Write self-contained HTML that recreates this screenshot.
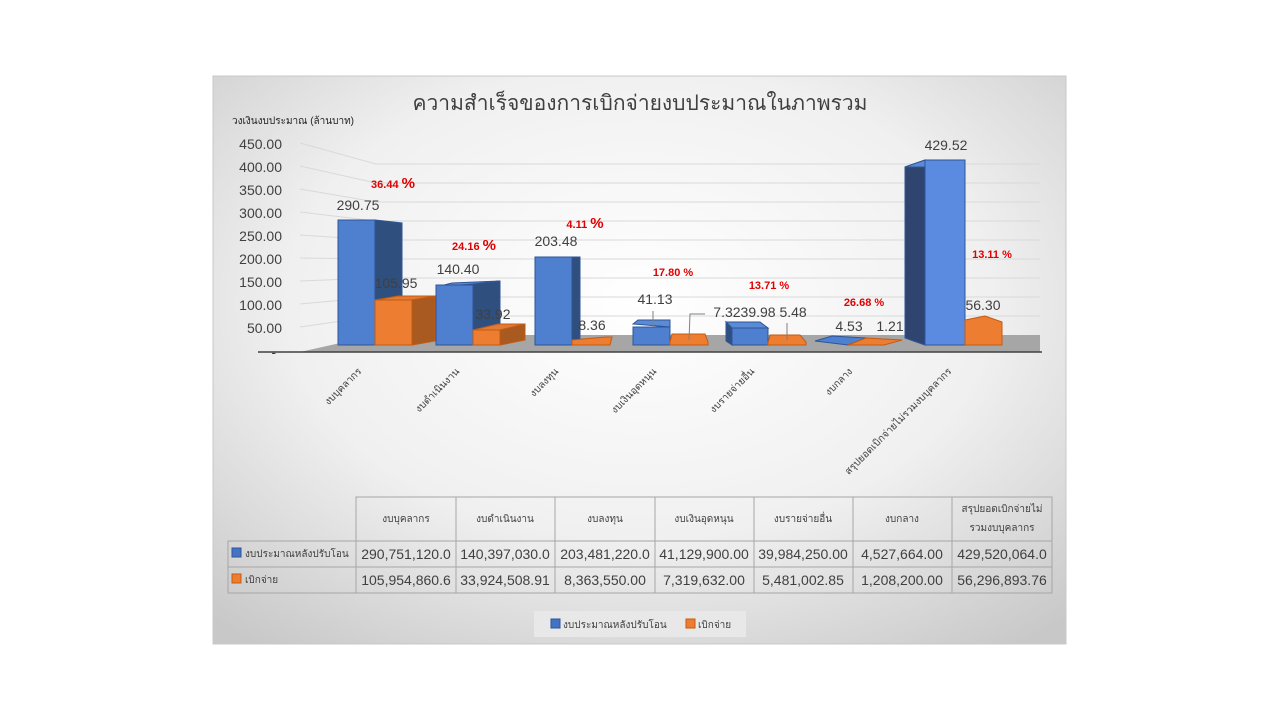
<!DOCTYPE html>
<html><head><meta charset="utf-8"><style>
body{margin:0;background:#fff;width:1280px;height:720px;overflow:hidden}
svg{display:block;font-family:"Liberation Sans","DejaVu Sans",sans-serif}
</style></head><body>
<svg width="1280" height="720" viewBox="0 0 1280 720">
<defs>
<radialGradient id="bg" cx="0.5" cy="0.4" r="0.75">
<stop offset="0" stop-color="#ffffff"/><stop offset="0.55" stop-color="#f0f0f0"/><stop offset="1" stop-color="#c8c8c8"/>
</radialGradient>
</defs>
<rect x="213" y="76" width="853" height="568" fill="url(#bg)" stroke="#c8c8c8"/>
<text x="640" y="110" font-size="21" text-anchor="middle" fill="#404040">ความสำเร็จของการเบิกจ่ายงบประมาณในภาพรวม</text>
<text x="232" y="124" font-size="10" fill="#222">วงเงินงบประมาณ (ล้านบาท)</text>
<g font-size="14" fill="#404040" text-anchor="end">
<text x="282" y="149">450.00</text><text x="282" y="172">400.00</text><text x="282" y="195">350.00</text>
<text x="282" y="218">300.00</text><text x="282" y="241">250.00</text><text x="282" y="264">200.00</text>
<text x="282" y="287">150.00</text><text x="282" y="310">100.00</text><text x="282" y="333">50.00</text>
<text x="276" y="357">-</text>
</g>
<g stroke="#d9d9d9" stroke-width="1" fill="none">
<polyline points="300,143 376,164 1040,164"/><polyline points="300,166 376,183 1040,183"/>
<polyline points="300,189 376,202 1040,202"/><polyline points="300,212 376,221 1040,221"/>
<polyline points="300,235 376,240 1040,240"/><polyline points="300,258 376,259 1040,259"/>
<polyline points="300,281 376,278 1040,278"/><polyline points="300,304 376,297 1040,297"/>
<polyline points="300,327 376,316 1040,316"/>
</g>
<polygon points="300,352 376,335 1040,335 1040,352" fill="#a6a6a6"/>
<line x1="258" y1="352" x2="1042" y2="352" stroke="#404040" stroke-width="1.5"/>
<!-- bars: front face, side face, top -->
<g stroke="#2f5597" stroke-width="1">
<!-- cat1 -->
<polygon points="375,220 402,223 402,345 375,345" fill="#2f4f7f"/>
<rect x="338" y="220" width="37" height="125" fill="#4f7fcf"/>
<!-- cat2 -->
<polygon points="473,284 500,281 500,345 473,345" fill="#2f4f7f"/>
<polygon points="436,287 452,283 500,281 473,284" fill="#5b8ad6"/>
<rect x="436" y="285" width="37" height="60" fill="#4f7fcf"/>
<!-- cat3 -->
<polygon points="572,257 580,257 580,345 572,345" fill="#2f4f7f"/>
<rect x="535" y="257" width="37" height="88" fill="#4f7fcf"/>
<!-- cat4 -->
<polygon points="633,324 638,320 670,320 670,327" fill="#5b8ad6"/>
<rect x="633" y="327" width="37" height="18" fill="#4f7fcf"/>
<!-- cat5 -->
<polygon points="726,322 760,322 768,328 732,328" fill="#5b8ad6"/>
<polygon points="726,322 732,328 732,345 726,341" fill="#2f4f7f"/>
<rect x="732" y="328" width="36" height="17" fill="#4f7fcf"/>
<!-- cat6 -->
<polygon points="815,341 832,336 866,338 848,345" fill="#4f7fcf"/>
<!-- cat7 -->
<polygon points="905,167 925,160 925,345 905,338" fill="#2f4570"/>
<polygon points="905,167 925,160 965,160 945,167" fill="#5b8ad6"/>
<rect x="925" y="160" width="40" height="185" fill="#5a8be0"/>
</g>
<g stroke="#c55a11" stroke-width="1">
<polygon points="375,300 398,296 435,296 412,300" fill="#e07a35"/>
<polygon points="412,300 435,296 435,341 412,345" fill="#a85a20"/>
<rect x="375" y="300" width="37" height="45" fill="#ed7d31"/>
<polygon points="473,330 498,324 525,324 500,330" fill="#e07a35"/>
<polygon points="500,330 525,324 525,340 500,345" fill="#a85a20"/>
<rect x="473" y="330" width="27" height="15" fill="#ed7d31"/>
<polygon points="572,340 606,337 612,337 610,345 572,345" fill="#ed7d31"/>
<polygon points="670,342 672,334 705,334 708,342 708,345 670,345" fill="#ed7d31"/>
<polygon points="768,343 770,335 800,335 806,342 806,345 768,345" fill="#ed7d31"/>
<polygon points="848,345 866,338 902,340 884,345" fill="#ed7d31"/>
<polygon points="965,320 985,316 1002,322 1002,345 965,345" fill="#ed7d31"/>
</g>
<g stroke="#808080" fill="none"><polyline points="653,311 653,327"/><polyline points="705,314 690,314 689,340"/><polyline points="787,323 787,340"/></g>
<g font-size="14" fill="#404040" text-anchor="middle">
<text x="358" y="210">290.75</text><text x="396" y="288">105.95</text>
<text x="458" y="274">140.40</text><text x="493" y="319">33.92</text>
<text x="556" y="246">203.48</text><text x="592" y="330">8.36</text>
<text x="655" y="304">41.13</text><text x="760" y="317">7.3239.98 5.48</text>
<text x="849" y="331">4.53</text><text x="890" y="331">1.21</text>
<text x="946" y="150">429.52</text><text x="983" y="310">56.30</text>
</g>
<g font-size="11" font-weight="bold" fill="#e00000" text-anchor="middle">
<text x="393" y="188">36.44 <tspan font-size="15">%</tspan></text>
<text x="474" y="250">24.16 <tspan font-size="15">%</tspan></text>
<text x="585" y="228">4.11 <tspan font-size="15">%</tspan></text>
<text x="673" y="276">17.80 %</text><text x="769" y="289">13.71 %</text>
<text x="864" y="306">26.68 %</text><text x="992" y="258">13.11 %</text>
</g>
<g font-size="10" fill="#404040" text-anchor="end">
<text transform="translate(362,372) rotate(-45)">งบบุคลากร</text>
<text transform="translate(460,372) rotate(-45)">งบดำเนินงาน</text>
<text transform="translate(559,372) rotate(-45)">งบลงทุน</text>
<text transform="translate(657,372) rotate(-45)">งบเงินอุดหนุน</text>
<text transform="translate(755,372) rotate(-45)">งบรายจ่ายอื่น</text>
<text transform="translate(853,372) rotate(-45)">งบกลาง</text>
<text transform="translate(952,372) rotate(-45)">สรุปยอดเบิกจ่ายไม่รวมงบบุคลากร</text>
</g>
<!-- table -->
<g stroke="#a6a6a6" fill="none">
<rect x="356" y="497" width="696" height="96"/>
<rect x="228" y="541" width="128" height="52"/>
<line x1="228" y1="567" x2="1052" y2="567"/><line x1="356" y1="541" x2="1052" y2="541"/>
<line x1="456" y1="497" x2="456" y2="593"/><line x1="555" y1="497" x2="555" y2="593"/>
<line x1="655" y1="497" x2="655" y2="593"/><line x1="754" y1="497" x2="754" y2="593"/>
<line x1="853" y1="497" x2="853" y2="593"/><line x1="952" y1="497" x2="952" y2="593"/>
</g>
<g font-size="10" fill="#404040" text-anchor="middle">
<text x="406" y="522">งบบุคลากร</text><text x="505" y="522">งบดำเนินงาน</text><text x="605" y="522">งบลงทุน</text>
<text x="704" y="522">งบเงินอุดหนุน</text><text x="803" y="522">งบรายจ่ายอื่น</text><text x="902" y="522">งบกลาง</text>
<text x="1002" y="512">สรุปยอดเบิกจ่ายไม่</text><text x="1002" y="531">รวมงบบุคลากร</text>
</g>
<rect x="232" y="548" width="9" height="9" fill="#4472c4" stroke="#2f5597"/>
<rect x="232" y="574" width="9" height="9" fill="#ed7d31" stroke="#c55a11"/>
<g font-size="10" fill="#404040"><text x="245" y="557">งบประมาณหลังปรับโอน</text><text x="245" y="583">เบิกจ่าย</text></g>
<g font-size="14" fill="#404040" text-anchor="middle">
<text x="406" y="559">290,751,120.0</text><text x="505" y="559">140,397,030.0</text><text x="605" y="559">203,481,220.0</text>
<text x="704" y="559">41,129,900.00</text><text x="803" y="559">39,984,250.00</text><text x="902" y="559">4,527,664.00</text><text x="1002" y="559">429,520,064.0</text>
<text x="406" y="585">105,954,860.6</text><text x="505" y="585">33,924,508.91</text><text x="605" y="585">8,363,550.00</text>
<text x="704" y="585">7,319,632.00</text><text x="803" y="585">5,481,002.85</text><text x="902" y="585">1,208,200.00</text><text x="1002" y="585">56,296,893.76</text>
</g>
<rect x="534" y="611" width="212" height="26" fill="#e8e8e8"/>
<rect x="551" y="619" width="9" height="9" fill="#4472c4" stroke="#2f5597"/>
<rect x="686" y="619" width="9" height="9" fill="#ed7d31" stroke="#c55a11"/>
<g font-size="10" fill="#404040"><text x="563" y="628">งบประมาณหลังปรับโอน</text><text x="698" y="628">เบิกจ่าย</text></g>
</svg>
</body></html>
